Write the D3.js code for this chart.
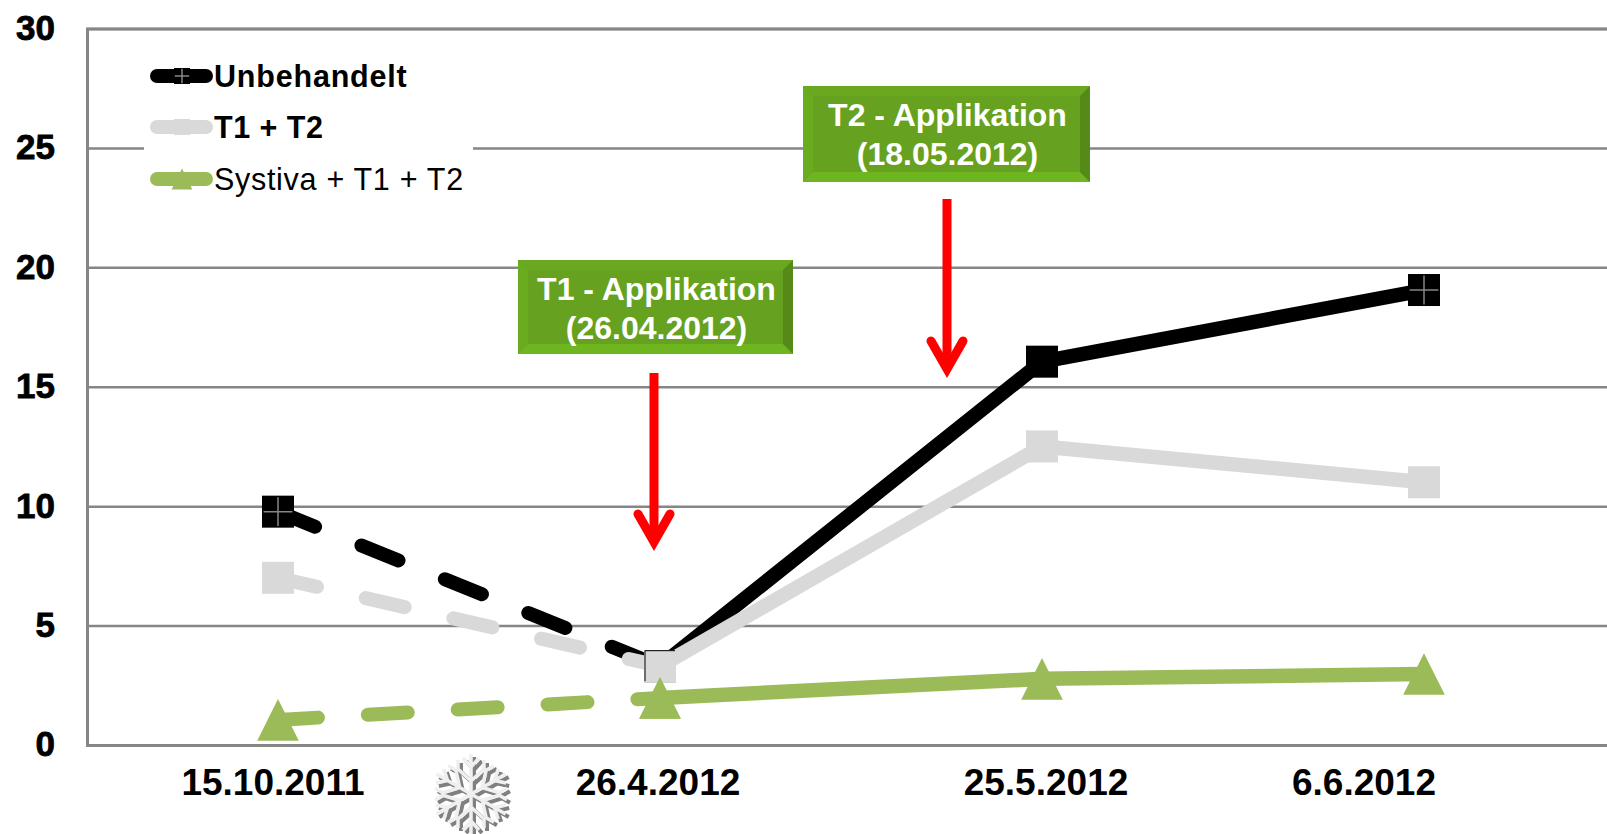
<!DOCTYPE html>
<html>
<head>
<meta charset="utf-8">
<script src="https://cdn.jsdelivr.net/npm/d3@7"></script>
<style>
  html, body { margin: 0; background: #fff; }
  svg { display: block; }
  text { font-family: "Liberation Sans", Arial, sans-serif; }
</style>
</head>
<body>
<div id="chart"></div>
<script>
const dates = ["15.10.2011", "26.4.2012", "25.5.2012", "6.6.2012"];
const yTicks = [0, 5, 10, 15, 20, 25, 30];

const unbehandelt = [9.77, 3.3, 16.05, 19.05];
const t1t2 = [7.0, 3.3, 12.5, 11.0];
const systiva = [1.05, 1.97, 2.77, 2.97];

const seriesNames = ["Unbehandelt", "T1 + T2", "Systiva + T1 + T2"];
const seriesColors = ["#000000", "#d9d9d9", "#9bbb59"];

const applicationLabels = [
  ["T1 - Applikation", "(26.04.2012)"],
  ["T2 - Applikation", "(18.05.2012)"],
];

const width = 1607;
const height = 834;
const gridColor = "#868686";

const svg = d3
  .select("#chart")
  .append("svg")
  .attr("width", width)
  .attr("height", height);

// 4 categories, the last band runs off the right edge of the picture
const x = d3.scaleBand().domain(dates).range([87, 1615]);
const y = d3.scaleLinear().domain([0, 30]).range([745, 28.5]);
const cx = (i) => x(dates[i]) + x.bandwidth() / 2;

// gridlines and y axis
const yAxis = svg
  .append("g")
  .attr("transform", "translate(87,0)")
  .call(
    d3
      .axisLeft(y)
      .tickValues(yTicks)
      .tickSize(-(width - 87))
      .tickPadding(32)
  );
yAxis.select(".domain").attr("stroke", gridColor).attr("stroke-width", 3);
yAxis.selectAll(".tick line").attr("stroke", gridColor).attr("stroke-width", 2.5);
yAxis
  .selectAll(".tick text")
  .attr("fill", "#000")
  .attr("stroke", "#000")
  .attr("stroke-width", 0.8)
  .attr("font-size", 35)
  .attr("font-weight", "bold")
  .attr("dy", "0.31em");

// x labels, they were placed by hand in the original
const labelNudge = [-5, -2, 4, -60];
svg
  .append("g")
  .selectAll("text")
  .data(dates)
  .enter()
  .append("text")
  .attr("x", (d, i) => cx(i) + labelNudge[i])
  .attr("y", 795)
  .attr("text-anchor", "middle")
  .attr("font-size", 37)
  .attr("font-weight", "bold")
  .text((d) => d);

// legend background hides the 25 gridline
svg
  .append("rect")
  .attr("x", 144)
  .attr("y", 52)
  .attr("width", 329)
  .attr("height", 150)
  .attr("fill", "#fff");

const line = d3
  .line()
  .x((d) => cx(d.i))
  .y((d) => y(d.v));

const triangle = (px, py, w) =>
  `M${px},${py - w / 2}L${px + w / 2},${py + w / 2}L${px - w / 2},${py + w / 2}Z`;

function drawMarker(g, name, px, py, s, cross) {
  if (name == seriesNames[2]) {
    g.append("path").attr("d", triangle(px, py, s * 1.3)).attr("fill", seriesColors[2]);
    return;
  }
  const color = name == seriesNames[0] ? seriesColors[0] : seriesColors[1];
  g.append("rect")
    .attr("x", px - s / 2)
    .attr("y", py - s / 2)
    .attr("width", s)
    .attr("height", s)
    .attr("fill", color);
  if (cross) {
    g.append("path")
      .attr("d", `M${px - s * 0.45},${py}H${px + s * 0.45}M${px},${py - s * 0.45}V${py + s * 0.45}`)
      .attr("stroke", gridColor)
      .attr("stroke-width", 1.5);
  }
}

const allValues = [unbehandelt, t1t2, systiva];
const crossAt = [[0, 3], [], []];

allValues.forEach((values, k) => {
  const pts = values.map((v, i) => ({ v, i }));
  const g = svg.append("g");
  // first interval (over winter) is dashed
  g.append("path")
    .attr("d", line(pts.slice(0, 2)))
    .attr("fill", "none")
    .attr("stroke", seriesColors[k])
    .attr("stroke-width", 14)
    .attr("stroke-linecap", "round")
    .attr("stroke-dasharray", "40 50");
  g.append("path")
    .attr("d", line(pts.slice(1)))
    .attr("fill", "none")
    .attr("stroke", seriesColors[k])
    .attr("stroke-width", 14.5)
    .attr("stroke-linejoin", "round");
  pts.forEach((p) => {
    drawMarker(g, seriesNames[k], cx(p.i), y(p.v), 32, crossAt[k].includes(p.i));
  });
});

// black outline of the hidden square under the grey one, point 2
svg
  .append("path")
  .attr("d", `M${cx(1) - 15},${y(3.3) + 15}V${y(3.3) - 15.5}H${cx(1) + 15}`)
  .attr("fill", "none")
  .attr("stroke", "#000")
  .attr("stroke-width", 1);
// green triangle stays on top of that
drawMarker(svg.append("g"), seriesNames[2], cx(1), y(systiva[1]), 32, false);

// legend
const legendY = [76, 127, 179];
const legendWeight = ["bold", "bold", "normal"];
const legendSpacing = [0.8, 0.5, 0.7];
seriesNames.forEach((name, k) => {
  const g = svg.append("g");
  g.append("line")
    .attr("x1", 157)
    .attr("x2", 206)
    .attr("y1", legendY[k])
    .attr("y2", legendY[k])
    .attr("stroke", seriesColors[k])
    .attr("stroke-width", 14)
    .attr("stroke-linecap", "round");
  drawMarker(g, name, 182, legendY[k], 16, k == 0);
  g.append("text")
    .attr("x", 214)
    .attr("y", legendY[k] + 11)
    .attr("font-size", 30.5)
    .attr("font-weight", legendWeight[k])
    .attr("letter-spacing", legendSpacing[k])
    .text(name);
});

// application boxes
const boxes = [
  { x: 518, y: 260, w: 275, h: 94 },
  { x: 803, y: 86, w: 287, h: 96 },
];
boxes.forEach((b, k) => {
  const e = 10;
  const g = svg.append("g");
  const x0 = b.x, x1 = b.x + b.w, y0 = b.y, y1 = b.y + b.h;
  g.append("rect").attr("x", x0).attr("y", y0).attr("width", b.w).attr("height", b.h).attr("fill", "#66a11f");
  g.append("path").attr("d", `M${x0},${y0}H${x1}L${x1 - e},${y0 + e}H${x0 + e}Z`).attr("fill", "#6aa820");
  g.append("path").attr("d", `M${x0},${y1}H${x1}L${x1 - e},${y1 - e}H${x0 + e}Z`).attr("fill", "#6fb520");
  g.append("path").attr("d", `M${x0},${y0}V${y1}L${x0 + e},${y1 - e}V${y0 + e}Z`).attr("fill", "#6aac20");
  g.append("path").attr("d", `M${x1},${y0}V${y1}L${x1 - e},${y1 - e}V${y0 + e}Z`).attr("fill", "#558a18");
  applicationLabels[k].forEach((t, j) => {
    g.append("text")
      .attr("x", b.x + b.w / 2 + 1)
      .attr("y", b.y + 40 + j * 39)
      .attr("text-anchor", "middle")
      .attr("fill", "#fff")
      .attr("font-size", 32)
      .attr("font-weight", "bold")
      .text(t);
  });
});

// red arrows
const arrows = [
  { x: 654, y1: 373, y2: 550 },
  { x: 947, y1: 199, y2: 377 },
];
arrows.forEach((a) => {
  const g = svg.append("g").attr("fill", "none").attr("stroke", "#ff0000");
  g.append("line")
    .attr("x1", a.x).attr("x2", a.x)
    .attr("y1", a.y1).attr("y2", a.y2 - 8)
    .attr("stroke-width", 9);
  g.append("path")
    .attr("d", `M${a.x - 16},${a.y2 - 36}L${a.x},${a.y2 - 8}L${a.x + 16},${a.y2 - 36}`)
    .attr("stroke-width", 9)
    .attr("stroke-linecap", "round")
    .attr("stroke-linejoin", "miter");
});

// snowflake below the axis
const flake = svg.append("g").attr("transform", "translate(471,794)");
const arm = "M0,0V-40M0,-13L-13,-25V-34M0,-13L13,-25V-34M0,-27L-8,-36M0,-27L8,-36";
d3.range(6).forEach((i) => {
  flake.append("path")
    .attr("d", arm)
    .attr("transform", `translate(3,3) rotate(${i * 60})`)
    .attr("fill", "none")
    .attr("stroke", "#808080")
    .attr("stroke-width", 4);
});
d3.range(6).forEach((i) => {
  flake.append("path")
    .attr("d", arm)
    .attr("transform", `rotate(${i * 60})`)
    .attr("fill", "none")
    .attr("stroke", "#efefef")
    .attr("stroke-width", 3.5);
});
</script>
</body>
</html>
